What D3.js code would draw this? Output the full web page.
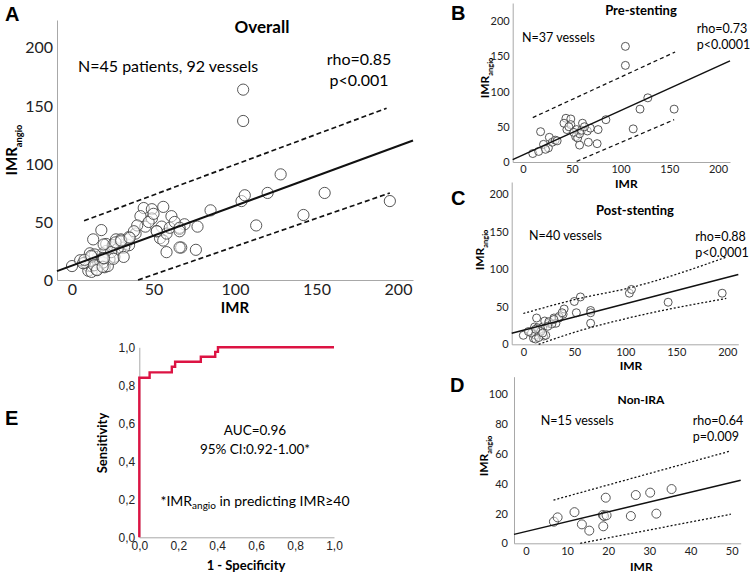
<!DOCTYPE html>
<html>
<head>
<meta charset="utf-8">
<script src="https://cdn.jsdelivr.net/npm/d3@7"></script>
<style>
  body { margin: 0; background: #fff; }
  svg { font-family: Lato, "Open Sans", sans-serif; }
  .tick text { fill: #222; }
  .domain { stroke: #a8a8a8; }
</style>
</head>
<body>
<svg id="chart" width="750" height="574"></svg>
<script>
// ---- data ----
// pre-stenting vessels [IMR, IMRangio]
const preStenting = [
  [10,12],[16,15],[21,25],[26,20],[27,35],[30,28],[33,31],[18,43],
  [44,62],[45,46],[49,61],[49,53],[55,46],[54,36],[56,34],[58,40],[61,55],[60,45],
  [58,24],[66,44],[69,48],[67,28],[77,46],[76,26],[85,60],[42,55],[47,50],[52,42],
  [63,50],[23,18],[35,30],
  [105,164],[105,137],[113,47],[120,75],[128,91],[155,75]
];
// post-stenting vessels
const postStenting = [
  [0,12],[10,8],[11,23],[13,35],[12,12],[16,20],[19,23],[20,11],[21,31],[25,28],
  [30,35],[32,28],[35,35],[39,40],[40,47],[50,57],[56,63],[52,42],[66,45],[66,42],
  [66,28],[104,68],[106,73],[142,56],[195,68],
  [8,15],[12,7],[15,9],[22,12],[14,22],[25,30],[28,27],[35,37],[38,42],[30,33],
  [17,17],[12,20],[5,17],[24,24],[19,15]
];
// non-infarct related artery vessels
const nonIra = [
  [6.8,14.5],[7.7,17.4],[11.8,20.9],[13.6,12.7],[15.4,8.5],[18.7,19],[19,18.3],
  [18.8,11.4],[19.4,30.6],[25.5,18.3],[26.7,32.4],[30.2,34],[31.7,19.9],[35.4,36.4],
  [19.6,18.8]
];
const overall = preStenting.concat(postStenting, nonIra);

// regression lines [intercept, slope] and prediction bands
const fitOverall = [12.4, 0.515];
const upperOverall = [[7.4,51],[193,148]];
const lowerOverall = [[40.5,0],[195,75]];
const fitPre = [10.1, 0.628];
const upperPre = [[10,63],[156,156]];
const lowerPre = [[55,1],[155,60]];
const fitPost = [18.6, 0.353];
const upperPost = [[0,41],[55,61],[104,75],[199,116]];
const lowerPost = [[15,0],[55,18],[100,34],[199,61]];
const fitNonIra = [7.9, 0.66];
const upperNonIra = [[6.7,29],[49.8,62]];
const lowerNonIra = [[13.2,0],[49.8,19.5]];

// ROC curve [1 - specificity, sensitivity]
const rocPoints = [
  [0,0],[0,0.84],[0.053,0.84],[0.053,0.868],[0.167,0.868],[0.167,0.898],
  [0.184,0.898],[0.184,0.924],[0.316,0.924],[0.316,0.95],[0.39,0.95],
  [0.39,0.976],[0.404,0.976],[0.404,1],[1,1]
];

const imrTicks = [0, 50, 100, 150, 200];
const nonIraTicksX = [0, 10, 20, 30, 40, 50];
const nonIraTicksY = [0, 20, 40, 60, 80, 100];
const rocTicks = [0, 0.2, 0.4, 0.6, 0.8, 1.0];

const svg = d3.select("#chart");

function yLabel(x, y, size) {
  let t = svg.append("text")
    .attr("transform", `translate(${x},${y}) rotate(-90)`)
    .attr("text-anchor", "middle")
    .attr("font-weight", "bold")
    .attr("font-size", size);
  t.append("tspan").text("IMR");
  t.append("tspan").attr("font-size", size * 0.62).attr("dy", size * 0.3).text("angio");
}

function panelLetter(txt, x, y) {
  svg.append("text").attr("x", x).attr("y", y)
    .attr("font-family", "Liberation Sans, Arial, sans-serif")
    .attr("font-weight", "bold").attr("font-size", 20).text(txt);
}

function scatter(p) {
  let x = d3.scaleLinear().domain(p.xDom).range([p.left, p.right]);
  let y = d3.scaleLinear().domain(p.yDom).range([p.bottom, p.top]);
  let g = svg.append("g");

  g.append("g").attr("transform", `translate(0,${p.bottom})`)
    .call(d3.axisBottom(x).tickValues(p.xTicks).tickSize(0).tickPadding(p.padX))
    .call(s => s.selectAll("text").attr("font-size", p.tickSize));
  g.append("g").attr("transform", `translate(${p.left},0)`)
    .call(d3.axisLeft(y).tickValues(p.yTicks).tickSize(0).tickPadding(p.padY))
    .call(s => s.selectAll("text").attr("font-size", p.tickSize));
  g.selectAll(".domain").attr("stroke", "#a8a8a8");
  g.selectAll(".tick text").attr("font-family", "Lato, sans-serif");

  g.append("g").selectAll("circle")
    .data(p.data)
    .enter().append("circle")
    .attr("cx", d => x(d[0]))
    .attr("cy", d => y(d[1]))
    .attr("r", p.r)
    .attr("fill", "white")
    .attr("fill-opacity", 0.5)
    .attr("stroke", "#444")
    .attr("stroke-width", 0.9);

  let line = d3.line().x(d => x(d[0])).y(d => y(d[1]));
  let fitPts = p.xDom.map(v => [v, p.fit[0] + p.fit[1] * v]);
  g.append("path").attr("d", line(fitPts))
    .attr("fill", "none").attr("stroke", "#111").attr("stroke-width", p.lw);
  let curved = d3.line().x(d => x(d[0])).y(d => y(d[1])).curve(d3.curveMonotoneX);
  [p.upper, p.lower].forEach(b => {
    g.append("path").attr("d", curved(b))
      .attr("fill", "none").attr("stroke", "#111")
      .attr("stroke-width", p.lw * 0.85)
      .attr("stroke-dasharray", p.dash);
  });

  svg.append("text").attr("x", p.titleX).attr("y", p.titleY)
    .attr("text-anchor", "middle").attr("font-weight", "bold")
    .attr("font-size", p.titleSize).text(p.title);
  svg.append("text").attr("x", p.nX).attr("y", p.nY)
    .attr("font-size", p.textSize).text(p.nText);
  svg.append("text").attr("x", p.rhoX).attr("y", p.rhoY)
    .attr("text-anchor", p.rhoAnchor)
    .attr("font-size", p.textSize).text(p.rho);
  svg.append("text").attr("x", p.rhoX).attr("y", p.rhoY + p.textSize * 1.3)
    .attr("text-anchor", p.rhoAnchor)
    .attr("font-size", p.textSize).text(p.pval);

  svg.append("text").attr("x", (p.left + p.right) / 2 + p.imrShift).attr("y", p.imrY)
    .attr("text-anchor", "middle").attr("font-weight", "bold")
    .attr("font-size", p.labelSize).text("IMR");
  yLabel(p.yLabX, p.yLabY, p.labelSize);
}

// A - overall
scatter({
  data: overall, left: 57, right: 413, top: 20, bottom: 280,
  xDom: [-9.2, 209.2], yDom: [0, 224], xTicks: imrTicks, yTicks: imrTicks,
  tickSize: 16, padX: 4, padY: 4, r: 5.6, lw: 2, dash: "5,3",
  fit: fitOverall, upper: upperOverall, lower: lowerOverall,
  title: "Overall", titleX: 262, titleY: 33, titleSize: 17,
  nText: "N=45 patients, 92 vessels", nX: 78, nY: 72, textSize: 16,
  rho: "rho=0.85", pval: "p<0.001", rhoX: 359, rhoY: 65, rhoAnchor: "middle",
  imrY: 313, imrShift: 0, labelSize: 15, yLabX: 17, yLabY: 150
});
panelLetter("A", 5, 21);

// B - pre-stenting
scatter({
  data: preStenting, left: 512.7, right: 730, top: 3, bottom: 162,
  xDom: [-10.6, 212.3], yDom: [0, 225.5], xTicks: imrTicks, yTicks: imrTicks,
  tickSize: 11, padX: 3, padY: 3, r: 4, lw: 1.5, dash: "4,3",
  fit: fitPre, upper: upperPre, lower: lowerPre,
  title: "Pre-stenting", titleX: 641, titleY: 15, titleSize: 13,
  nText: "N=37 vessels", nX: 522, nY: 42, textSize: 12.5,
  rho: "rho=0.73", pval: "p<0.0001", rhoX: 696.7, rhoY: 33, rhoAnchor: "start",
  imrY: 188, imrShift: 5, labelSize: 12, yLabX: 489, yLabY: 78
});
panelLetter("B", 451, 20);

// C - post-stenting
scatter({
  data: postStenting, left: 511.7, right: 738.3, top: 182, bottom: 344.3,
  xDom: [-11.4, 210.8], yDom: [0, 216], xTicks: imrTicks, yTicks: imrTicks,
  tickSize: 11, padX: 4, padY: 3, r: 4, lw: 1.5, dash: "2,2",
  fit: fitPost, upper: upperPost, lower: lowerPost,
  title: "Post-stenting", titleX: 635, titleY: 215, titleSize: 13,
  nText: "N=40 vessels", nX: 529, nY: 240, textSize: 12.5,
  rho: "rho=0.88", pval: "p<0.0001", rhoX: 695.3, rhoY: 241, rhoAnchor: "start",
  imrY: 370, imrShift: 6, labelSize: 12, yLabX: 484, yLabY: 250
});
panelLetter("C", 451, 205);

// D - non-IRA
scatter({
  data: nonIra, left: 514, right: 740.7, top: 376.7, bottom: 543.3,
  xDom: [-2.9, 52.2], yDom: [0, 111.8], xTicks: nonIraTicksX, yTicks: nonIraTicksY,
  tickSize: 11, padX: 4, padY: 6, r: 4.5, lw: 1.5, dash: "2,2",
  fit: fitNonIra, upper: upperNonIra, lower: lowerNonIra,
  title: "Non-IRA", titleX: 641, titleY: 404, titleSize: 12,
  nText: "N=15 vessels", nX: 540.7, nY: 425, textSize: 12.5,
  rho: "rho=0.64", pval: "p=0.009", rhoX: 692.7, rhoY: 425, rhoAnchor: "start",
  imrY: 571, imrShift: 14, labelSize: 12, yLabX: 488, yLabY: 456
});
panelLetter("D", 450, 392);

// E - ROC
(function () {
  let x = d3.scaleLinear().domain([0, 1]).range([139.3, 334]);
  let y = d3.scaleLinear().domain([0, 1]).range([537.3, 347.3]);
  let fmt = d => d3.format(".1f")(d).replace(".", ",");
  let g = svg.append("g");
  g.append("g").attr("transform", "translate(0,537.3)")
    .call(d3.axisBottom(x).tickValues(rocTicks).tickFormat(fmt).tickSize(0).tickPadding(4))
    .call(s => s.selectAll("text").attr("font-size", 12));
  g.append("g").attr("transform", "translate(139.3,0)")
    .call(d3.axisLeft(y).tickValues(rocTicks).tickFormat(fmt).tickSize(0).tickPadding(4))
    .call(s => s.selectAll("text").attr("font-size", 12));
  g.selectAll(".domain").attr("stroke", "#a8a8a8");

  g.append("path")
    .attr("d", d3.line().x(d => x(d[0])).y(d => y(d[1]))(rocPoints))
    .attr("fill", "none").attr("stroke", "#dc1343").attr("stroke-width", 2.4);

  svg.append("text").attr("x", 255).attr("y", 435)
    .attr("text-anchor", "middle").attr("font-size", 13.5).text("AUC=0.96");
  svg.append("text").attr("x", 255).attr("y", 454)
    .attr("text-anchor", "middle").attr("font-size", 13.5).text("95% CI:0.92-1.00*");
  let note = svg.append("text").attr("x", 255).attr("y", 506)
    .attr("text-anchor", "middle").attr("font-size", 14);
  note.append("tspan").text("*IMR");
  note.append("tspan").attr("font-size", 10).attr("dy", 3).text("angio");
  note.append("tspan").attr("dy", -3).text(" in predicting IMR\u226540");

  svg.append("text").attr("transform", "translate(107,443) rotate(-90)")
    .attr("text-anchor", "middle").attr("font-weight", "bold")
    .attr("font-size", 13).text("Sensitivity");
  svg.append("text").attr("x", 246).attr("y", 570)
    .attr("text-anchor", "middle").attr("font-weight", "bold")
    .attr("font-size", 13).text("1 - Specificity");
})();
panelLetter("E", 5, 425);
</script>
</body>
</html>
